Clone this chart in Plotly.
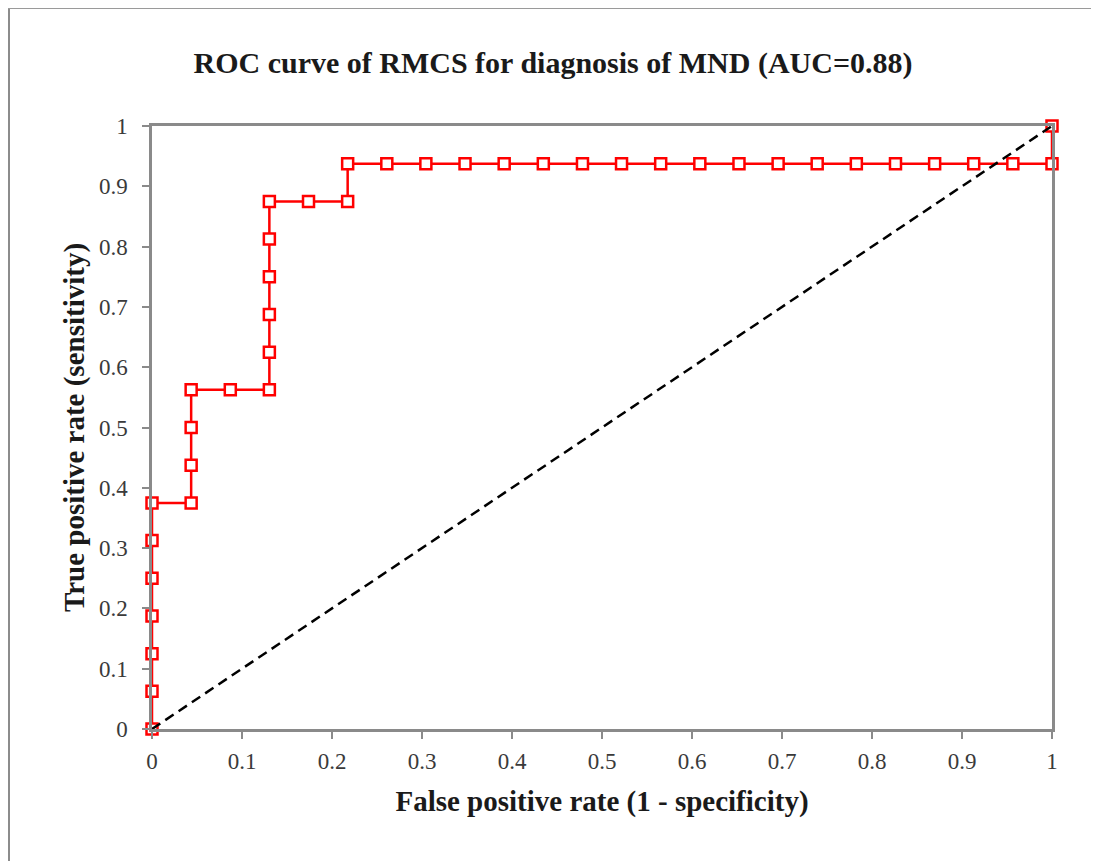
import plotly.graph_objects as go

# ROC data (FPR steps of 1/23, TPR steps of 1/16)
fpr = [0, 0, 0, 0, 0, 0, 0,
       0.0435, 0.0435, 0.0435, 0.0435, 0.0870,
       0.1304, 0.1304, 0.1304, 0.1304, 0.1304, 0.1304,
       0.1739, 0.2174, 0.2174,
       0.2609, 0.3043, 0.3478, 0.3913, 0.4348, 0.4783, 0.5217, 0.5652, 0.6087,
       0.6522, 0.6957, 0.7391, 0.7826, 0.8261, 0.8696, 0.9130, 0.9565, 1.0, 1.0]
tpr = [0, 0.0625, 0.125, 0.1875, 0.25, 0.3125, 0.375,
       0.375, 0.4375, 0.5, 0.5625, 0.5625,
       0.5625, 0.625, 0.6875, 0.75, 0.8125, 0.875,
       0.875, 0.875, 0.9375,
       0.9375, 0.9375, 0.9375, 0.9375, 0.9375, 0.9375, 0.9375, 0.9375, 0.9375,
       0.9375, 0.9375, 0.9375, 0.9375, 0.9375, 0.9375, 0.9375, 0.9375, 0.9375, 1.0]
ref_x = [0, 1]
ref_y = [0, 1]
tick_vals = [0, 0.1, 0.2, 0.3, 0.4, 0.5, 0.6, 0.7, 0.8, 0.9, 1]
tick_text = ["0", "0.1", "0.2", "0.3", "0.4", "0.5", "0.6", "0.7", "0.8", "0.9", "1"]

FONT = "Liberation Serif"
AX = "#8a8a8a"

fig = go.Figure()
fig.add_trace(go.Scatter(
    x=fpr, y=tpr, mode="lines+markers",
    line=dict(color="#ff0000", width=2.5),
    marker=dict(symbol="square", size=11, color="white",
                line=dict(color="#ff0000", width=2.5)),
    cliponaxis=False, showlegend=False))
fig.add_trace(go.Scatter(
    x=ref_x, y=ref_y, mode="lines",
    line=dict(color="black", width=2.5, dash="10px,6px"),
    cliponaxis=False, showlegend=False))

# page body adds an 8px offset; figure coords = window coords - 8
W, H = 1091, 853
L, T = 144, 118
R = W - 1044
B = H - 721
pw, ph = W - L - R, H - T - B

def px(xp):
    return (xp - L) / pw

def py(yp):
    return (H - B - yp) / ph

# outer chart-area frame
fig.add_shape(type="line", xref="paper", yref="paper",
              x0=px(1), x1=px(1), y0=py(0), y1=py(H), line=dict(color="#8c8c8c", width=2))
fig.add_shape(type="line", xref="paper", yref="paper",
              x0=px(0), x1=px(1089), y0=py(0), y1=py(0), line=dict(color="#9a9a9a", width=2))
fig.add_shape(type="line", xref="paper", yref="paper",
              x0=px(1089), x1=px(1089), y0=py(0), y1=py(H), line=dict(color="#d6d6d6", width=1.5))

axis_common = dict(
    range=[0, 1], tickvals=tick_vals, ticktext=tick_text,
    showgrid=False, zeroline=False,
    showline=True, linecolor=AX, linewidth=2.5, mirror=True,
    ticks="outside", ticklen=7, tickwidth=2, tickcolor=AX,
    tickfont=dict(family=FONT, size=23, color="#3a3a3a"),
)

fig.update_layout(
    width=W, height=H,
    margin=dict(l=L, r=R, t=T, b=B),
    paper_bgcolor="white", plot_bgcolor="white",
    title=dict(text="<b>ROC curve of RMCS for diagnosis of MND (AUC=0.88)</b>",
               x=(553 - 8) / W, xanchor="center", y=1 - (62 - 8) / H, yanchor="middle",
               font=dict(family=FONT, size=30, color="#1a1a1a")),
    xaxis=dict(**axis_common, ticklabelstandoff=3,
               title=dict(text="<b>False positive rate (1 - specificity)</b>",
                          font=dict(family=FONT, size=29, color="#1a1a1a"), standoff=18)),
    yaxis=dict(**axis_common, ticklabelstandoff=10,
               title=dict(text="<b>True positive rate (sensitivity)</b>",
                          font=dict(family=FONT, size=29, color="#1a1a1a"), standoff=6)),
)

fig.write_html("out.html")
